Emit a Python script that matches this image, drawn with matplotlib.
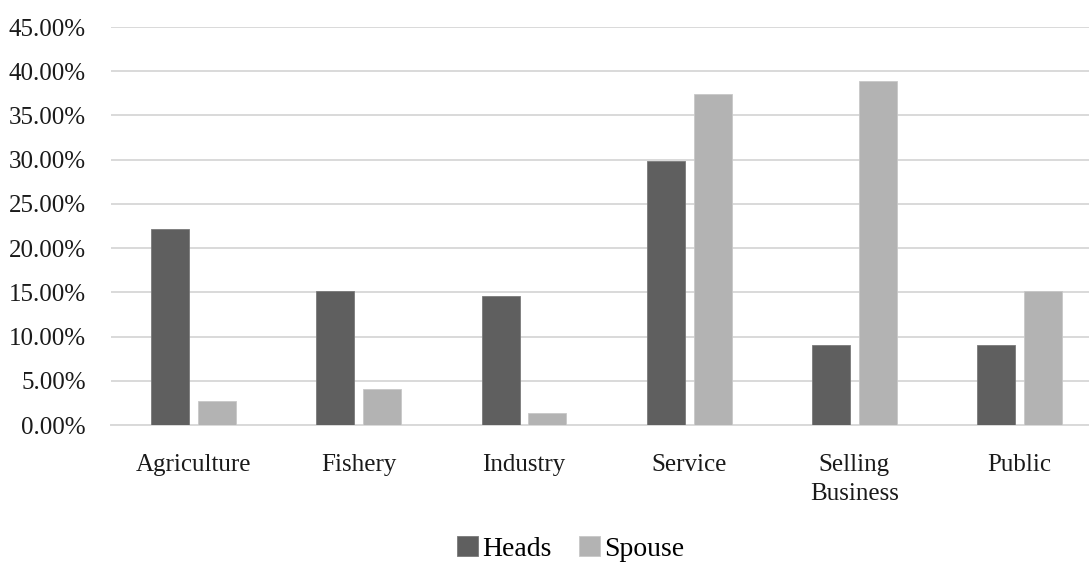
import matplotlib.pyplot as plt
import numpy as np

categories = ["Agriculture", "Fishery", "Industry", "Service", "Selling\nBusiness", "Public"]
heads = [22.2, 15.2, 14.6, 29.8, 9.0, 9.0]
spouse = [2.7, 4.1, 1.4, 37.4, 38.9, 15.2]
yticks = [0, 5, 10, 15, 20, 25, 30, 35, 40, 45]

plt.rcParams["font.family"] = ["Liberation Serif", "DejaVu Serif"]

fig = plt.figure(figsize=(10.89, 5.64), dpi=100)
ax = fig.add_axes([111 / 1089, 139 / 564, 1 - 111 / 1089, 398 / 564])

x = np.arange(len(categories))
w = 0.23
ax.bar(x - 0.142, heads, w, color="#5f5f5f", edgecolor="#7a7a7a", linewidth=0.6,
       label="Heads", zorder=3)
ax.bar(x + 0.142, spouse, w, color="#b3b3b3", edgecolor="#c8c8c8", linewidth=0.6,
       label="Spouse", zorder=3)

ax.set_xlim(-0.5, 5.42)
ax.set_ylim(0, 45)
ax.set_yticks(yticks)
ax.set_yticklabels([f"{v:.2f}%" for v in yticks])
ax.set_xticks(x)
ax.set_xticklabels(categories, linespacing=1.4, va="top")

ax.grid(axis="y", color="#d9d9d9", linewidth=1.4, zorder=0)
for s in ["top", "right", "left"]:
    ax.spines[s].set_visible(False)
ax.spines["bottom"].set_color("#d9d9d9")
ax.spines["bottom"].set_linewidth(1.4)
ax.tick_params(axis="both", length=0, labelsize=18, colors="#1a1a1a")
ax.tick_params(axis="x", pad=21)
ax.tick_params(axis="y", pad=18)

fig.legend(loc="center", bbox_to_anchor=(0.524, 0.027), ncol=2, frameon=False,
           fontsize=20, handlelength=0.75, handleheight=0.75, handletextpad=0.15,
           columnspacing=1.0)

fig.savefig("out.png", dpi=100)
